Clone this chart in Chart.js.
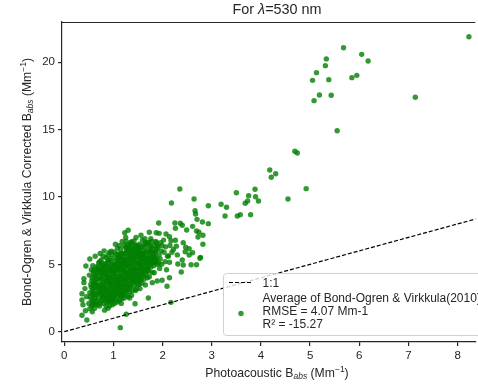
<!DOCTYPE html>
<html>
<head>
<meta charset="utf-8">
<script src="https://cdn.jsdelivr.net/npm/chart.js@4.4.0/dist/chart.umd.min.js"></script>
<style>
html,body{margin:0;padding:0;background:#fff;overflow:hidden;}
canvas{display:block;}
</style>
</head>
<body>
<canvas id="c" width="478" height="390"></canvas>
<script>
// ---- data (Photoacoustic Babs, Bond-Ogren & Virkkula corrected Babs) ----
const outlierPoints = [
[8.23,21.9],[5.68,21.08],[6.05,20.59],[6.18,20.10],[5.33,20.25],[5.31,19.75],[5.13,19.23],
[5.05,18.66],[5.38,18.71],[5.85,18.86],[5.95,19.03],[5.19,17.57],[5.43,17.55],[5.08,17.15],
[7.14,17.40],[5.55,14.92],[4.69,13.39],[4.74,13.27],[4.18,12.0],[4.30,11.73],[4.21,11.46],
[4.92,10.62],[4.55,9.85],[3.50,10.32],[3.88,10.57],[3.75,10.10],[3.89,10.02],[3.73,9.70],
[3.68,9.53],[3.95,9.70],[3.19,9.46],[3.30,9.24],[3.27,8.59],[3.52,8.59],[3.58,8.69],[3.79,8.69]
];
const clusterPoints = [
[0.36,1.22],[0.46,0.87],[0.36,2.35],[0.36,2.82],[0.40,3.64],[0.40,3.93],[0.44,4.88],[0.42,3.2],[0.45,2.6],[0.38,2.0],[0.43,1.55],
[0.52,1.71],[0.57,1.48],[0.50,2.1],[0.55,2.4],[0.52,2.9],[0.58,3.1],[0.54,3.5],[0.56,3.8],[0.51,4.2],[0.59,4.5],[0.53,2.6],[0.57,2.0],[0.60,2.7],[0.55,3.3],[0.60,3.6],[0.58,4.9],[0.52,5.4],
[0.62,1.74],[0.65,2.2],[0.63,2.5],[0.68,2.8],[0.61,3.0],[0.66,3.3],[0.64,3.6],[0.69,3.9],[0.62,4.1],[0.67,4.4],[0.65,4.8],[0.70,5.1],[0.63,5.6],[0.68,2.0],[0.70,3.1],[0.66,3.9],[0.61,2.3],[0.69,4.6],
[0.72,1.9],[0.75,2.3],[0.78,2.6],[0.71,2.9],[0.76,3.2],[0.73,3.5],[0.79,3.7],[0.74,4.0],[0.77,4.3],[0.72,4.6],[0.78,4.9],[0.75,5.3],[0.73,5.8],[0.80,2.1],[0.77,2.85],[0.71,3.45],[0.79,4.15],[0.74,3.05],[0.76,4.7],[0.79,5.6],
[0.82,1.6],[0.85,1.9],[0.89,1.74],[0.83,2.3],[0.87,2.6],[0.81,2.9],[0.86,3.1],[0.84,3.4],[0.88,3.7],[0.82,3.95],[0.86,4.2],[0.89,4.5],[0.83,4.8],[0.87,5.1],[0.85,5.5],[0.81,6.0],[0.88,2.2],[0.84,2.75],[0.89,3.25],[0.81,3.55],[0.87,3.9],[0.85,4.6],[0.89,5.3],
[0.92,1.9],[0.95,2.2],[0.98,2.0],[0.91,2.5],[0.96,2.8],[0.93,3.1],[0.99,3.3],[0.94,3.6],[0.97,3.9],[0.91,4.2],[0.96,4.5],[0.93,4.8],[0.99,5.0],[0.95,5.4],[0.92,5.9],[0.96,5.97],[0.98,2.6],[0.92,3.45],[0.97,4.1],[0.94,4.65],[0.99,3.75],[0.91,2.95],[0.97,5.7],
[1.02,2.1],[1.05,2.4],[1.08,2.2],[1.01,2.7],[1.06,3.0],[1.03,3.3],[1.09,3.5],[1.04,3.8],[1.07,4.1],[1.01,4.4],[1.06,4.7],[1.03,5.0],[1.09,5.2],[1.05,5.5],[1.02,5.9],[1.08,6.2],[1.04,6.5],[1.10,2.9],[1.07,3.65],[1.02,4.25],[1.09,4.55],[1.05,4.9],[1.00,3.1],
[1.12,2.3],[1.16,2.1],[1.14,2.6],[1.18,2.9],[1.11,3.2],[1.16,3.5],[1.13,3.8],[1.19,4.0],[1.14,4.3],[1.17,4.6],[1.11,4.9],[1.16,5.2],[1.13,5.5],[1.19,5.8],[1.15,6.1],[1.12,6.4],[1.18,6.7],[1.14,0.30],[1.20,3.4],[1.17,4.85],[1.12,3.65],[1.19,5.3],[1.15,2.75],[1.11,5.75],
[1.26,1.29],[1.22,2.5],[1.26,2.8],[1.29,2.6],[1.21,3.1],[1.25,3.4],[1.28,3.7],[1.23,4.0],[1.27,4.3],[1.21,4.6],[1.26,4.9],[1.23,5.2],[1.29,5.5],[1.24,5.8],[1.28,6.1],[1.22,6.4],[1.26,6.7],[1.23,7.35],[1.30,7.53],[1.29,3.15],[1.24,3.85],[1.28,4.65],[1.22,5.35],[1.27,6.0],[1.25,7.0],
[1.33,2.97],[1.37,2.7],[1.32,3.3],[1.36,3.6],[1.39,3.07],[1.31,3.9],[1.35,4.2],[1.38,4.5],[1.32,4.8],[1.36,5.1],[1.39,5.4],[1.33,5.7],[1.37,6.0],[1.31,6.3],[1.35,6.6],[1.37,6.68],[1.39,6.2],[1.34,4.05],[1.38,4.75],[1.32,5.3],[1.36,5.85],[1.40,3.8],[1.33,2.5],
[1.44,2.08],[1.47,3.17],[1.42,3.4],[1.45,3.7],[1.49,3.5],[1.41,4.0],[1.46,4.3],[1.43,4.6],[1.48,4.9],[1.41,5.2],[1.45,5.5],[1.49,5.8],[1.43,6.1],[1.47,6.4],[1.42,6.73],[1.46,7.0],[1.44,4.45],[1.48,5.25],[1.42,5.75],[1.47,6.05],[1.45,3.05],[1.50,4.1],
[1.52,3.5],[1.55,3.8],[1.58,3.6],[1.51,4.1],[1.56,4.4],[1.53,4.7],[1.59,5.0],[1.54,5.3],[1.57,5.6],[1.51,5.9],[1.56,6.2],[1.53,6.5],[1.56,7.16],[1.59,6.8],[1.55,4.95],[1.58,5.45],[1.52,6.05],[1.60,4.3],[1.54,3.2],
[1.65,3.47],[1.62,3.9],[1.66,4.2],[1.69,4.0],[1.61,4.5],[1.65,4.8],[1.68,5.1],[1.63,5.4],[1.67,5.7],[1.62,6.0],[1.66,6.3],[1.69,6.6],[1.64,6.9],[1.67,5.25],[1.61,5.6],[1.69,4.55],[1.63,6.45],
[1.71,2.50],[1.73,4.08],[1.79,3.64],[1.72,4.5],[1.76,4.8],[1.79,4.4],[1.71,5.1],[1.75,5.4],[1.78,5.7],[1.73,6.0],[1.77,6.3],[1.72,6.6],[1.73,7.38],[1.76,6.9],[1.79,5.2],[1.74,5.75],
[1.83,4.38],[1.89,3.76],[1.82,4.9],[1.86,5.2],[1.81,5.5],[1.85,5.8],[1.88,6.1],[1.83,6.4],[1.87,7.35],[1.86,6.7],[1.89,5.0],[1.84,5.55],[1.88,6.6],
[1.99,3.82],[1.92,5.1],[1.95,5.4],[1.98,5.0],[1.93,5.69],[1.97,6.0],[1.91,6.3],[1.96,6.6],[1.93,7.30],[1.92,8.07],[1.99,6.4],[1.94,4.7],
[2.09,3.37],[2.14,4.01],[2.17,2.18],[2.14,5.15],[2.12,5.62],[2.07,7.25],[2.14,7.05],[2.17,6.76],[2.03,5.9],[2.06,6.3],[2.10,5.6],[2.02,6.8],[2.18,9.55],[2.08,4.6],[2.15,6.4],[2.05,5.2],[2.19,5.9],
[2.26,6.79],[2.42,6.61],[2.47,6.27],[2.31,5.03],[2.40,5.32],[2.42,4.95],[2.38,4.43],[2.46,5.94],[2.25,8.07],[2.36,8.05],[2.40,7.90],[2.26,7.68],[2.49,7.55],[2.35,10.59],[2.22,6.1],[2.30,5.7],[2.28,6.35],
[2.54,6.16],[2.61,5.86],[2.77,5.52],[2.58,4.97],[2.69,4.97],[2.76,5.45],[2.54,5.69],[2.61,7.82],[2.69,7.48],[2.74,7.38],[2.72,7.03],[2.82,7.16],[2.82,6.49],[2.64,9.85],[2.93,9.35],[2.66,8.98],[2.67,8.74],[2.70,8.34],[2.81,8.14],[2.93,8.02]
];
const coreInfill = [
[0.56,1.9],[0.63,2.05],[0.58,2.25],[0.64,2.75],[0.57,2.8],[0.62,3.25],[0.59,3.4],[0.65,3.45],[0.61,3.75],[0.57,4.05],[0.64,4.25],[0.60,4.35],[0.55,4.6],[0.62,4.6],
[0.70,2.45],[0.73,2.15],[0.76,2.7],[0.72,3.3],[0.78,3.35],[0.75,3.85],[0.71,4.2],[0.78,4.5],[0.74,4.45],[0.70,4.85],[0.77,5.05],[0.72,5.2],
[0.80,2.5],[0.86,2.45],[0.83,3.15],[0.88,2.95],[0.80,3.3],[0.85,3.75],[0.83,4.35],[0.88,4.1],[0.81,4.55],[0.86,4.85],[0.84,5.05],[0.89,5.7],
[0.90,2.25],[0.94,2.4],[0.97,2.3],[0.93,2.75],[0.99,2.85],[0.95,3.25],[0.90,3.7],[0.96,3.5],[0.93,4.0],[0.98,4.35],[0.91,4.5],[0.95,4.95],[0.99,4.7],[0.93,5.25],
[1.00,2.45],[1.04,2.75],[1.08,2.65],[1.02,3.05],[1.06,3.35],[1.10,3.2],[1.01,3.6],[1.05,4.05],[1.09,3.9],[1.04,4.45],[1.08,4.8],[1.00,4.75],[1.03,5.25],[1.07,5.75],[1.10,5.5],
[1.13,2.85],[1.17,2.45],[1.20,2.7],[1.15,3.05],[1.18,3.25],[1.11,3.45],[1.15,3.95],[1.20,3.75],[1.12,4.15],[1.17,4.2],[1.20,4.45],[1.13,4.6],[1.15,4.75],[1.19,5.05],[1.14,5.05],[1.17,5.5],[1.11,5.25],[1.15,5.8],
[1.21,2.8],[1.24,3.0],[1.27,3.1],[1.23,3.55],[1.30,3.45],[1.21,3.85],[1.26,4.15],[1.29,4.0],[1.24,4.45],[1.30,4.4],[1.22,4.85],[1.28,5.0],[1.25,5.1],[1.27,5.35],[1.30,5.75],[1.21,5.65],[1.25,6.25],[1.29,6.45],
[1.31,3.55],[1.35,3.35],[1.38,3.85],[1.33,4.35],[1.40,4.25],[1.35,4.6],[1.30,5.05],[1.38,5.0],[1.34,5.45],[1.40,5.7],[1.31,5.95],[1.38,6.45],[1.34,6.2],
[1.41,3.7],[1.47,3.85],[1.43,4.15],[1.49,4.45],[1.41,4.75],[1.46,4.65],[1.44,5.05],[1.50,5.1],[1.42,5.45],[1.47,5.6],[1.45,6.0],[1.50,6.2],[1.44,6.4],
[1.51,3.85],[1.57,3.95],[1.54,4.2],[1.59,4.6],[1.52,4.55],[1.56,4.8],[1.51,5.05],[1.57,5.2],[1.53,5.55],[1.59,5.75],[1.55,5.85],[1.58,6.3],[1.51,6.35],
[1.61,4.2],[1.67,4.45],[1.63,4.65],[1.69,4.85],[1.61,5.1],[1.65,5.35],[1.69,5.45],[1.63,5.85],[1.68,6.0],[1.65,6.6],
[1.71,4.75],[1.75,5.05],[1.78,5.45],[1.72,5.45],[1.76,5.95],[1.79,6.1],[1.74,6.35],[1.78,6.7],
[1.81,5.1],[1.85,5.45],[1.88,5.35],[1.82,5.85],[1.86,6.0],[1.89,6.35]
];
const oneToOneX = [0, 9];
const xTicks = [0,1,2,3,4,5,6,7,8];
const yTicks = [0,5,10,15,20];
const titleText = ['For ', 'λ', '=530 nm'];
const legendLabels = ['1:1', 'Average of Bond-Ogren & Virkkula(2010)', 'RMSE = 4.07 Mm-1', 'R² = -15.27'];

// ---- drawing ----
const FONT = '"Liberation Sans", Arial, sans-serif';
const TXT = '#262626';
const scatterData = outlierPoints.concat(clusterPoints, coreInfill).map(p => ({x: p[0], y: p[1]}));
const lineData = oneToOneX.map(v => ({x: v, y: v}));

function drawRich(ctx, segs, size, cx, cy) {
  const parts = segs.map(s => {
    const fs = (s.sub || s.sup) ? size * 0.7 : size;
    const f = (s.it ? 'italic ' : '') + fs + 'px ' + FONT;
    ctx.font = f;
    return {t: s.t, f: f, w: ctx.measureText(s.t).width, dy: s.sub ? size * 0.22 : (s.sup ? -size * 0.38 : 0)};
  });
  const total = parts.reduce((a, p) => a + p.w, 0);
  let x = cx - total / 2;
  ctx.textAlign = 'left';
  ctx.textBaseline = 'middle';
  parts.forEach(p => { ctx.font = p.f; ctx.fillText(p.t, x, cy + p.dy); x += p.w; });
}

const decor = {
  id: 'decor',
  afterDatasetsDraw(chart) {
    const ctx = chart.ctx;
    const ca = chart.chartArea;
    ctx.save();
    ctx.fillStyle = TXT;
    // top spine
    ctx.strokeStyle = TXT; ctx.lineWidth = 1.2;
    ctx.beginPath(); ctx.moveTo(ca.left, ca.top + 0.5); ctx.lineTo(ca.right, ca.top + 0.5); ctx.stroke();
    // legend
    const lx = 223.5, ly = 273.5, lw = 300, lh = 62, r = 3;
    ctx.beginPath();
    ctx.moveTo(lx + r, ly); ctx.lineTo(lx + lw, ly); ctx.lineTo(lx + lw, ly + lh); ctx.lineTo(lx + r, ly + lh);
    ctx.arcTo(lx, ly + lh, lx, ly + lh - r, r); ctx.lineTo(lx, ly + r); ctx.arcTo(lx, ly, lx + r, ly, r);
    ctx.closePath();
    ctx.fillStyle = 'rgba(255,255,255,0.8)'; ctx.fill();
    ctx.strokeStyle = 'rgba(204,204,204,0.9)'; ctx.lineWidth = 1; ctx.stroke();
    ctx.setLineDash([4, 2]); ctx.strokeStyle = '#000'; ctx.lineWidth = 1.2;
    ctx.beginPath(); ctx.moveTo(229, 282.5); ctx.lineTo(252, 282.5); ctx.stroke();
    ctx.setLineDash([]);
    ctx.fillStyle = 'rgba(0,128,0,0.8)';
    ctx.beginPath(); ctx.arc(241, 313.5, 2.7, 0, Math.PI * 2); ctx.fill();
    ctx.fillStyle = TXT; ctx.font = '12px ' + FONT; ctx.textAlign = 'left'; ctx.textBaseline = 'middle';
    ctx.fillText(legendLabels[0], 262.5, 283.5);
    ctx.fillText(legendLabels[1], 262.5, 298.5);
    ctx.fillText(legendLabels[2], 262.5, 311.8);
    ctx.fillText(legendLabels[3], 262.5, 325);
    // title
    drawRich(ctx, [{t: titleText[0]}, {t: titleText[1], it: true}, {t: titleText[2]}], 14.4, 277, 10);
    // x label
    const axSegs = (pre) => [{t: pre + 'B'}, {t: 'abs', sub: true, it: true}, {t: ' (Mm'}, {t: '−1', sup: true}, {t: ')'}];
    drawRich(ctx, axSegs('Photoacoustic '), 12.2, 277, 374);
    // y label
    ctx.translate(28, 182); ctx.rotate(-Math.PI / 2);
    drawRich(ctx, axSegs('Bond-Ogren & Virkkula Corrected '), 12.2, 0, 0);
    ctx.restore();
  }
};

new Chart(document.getElementById('c'), {
  type: 'scatter',
  data: {
    datasets: [
      {type: 'line', label: '1:1', data: lineData, borderColor: '#000', borderWidth: 1.2, borderDash: [4, 2],
       pointRadius: 0, fill: false, order: 0},
      {label: 'Average', data: scatterData, backgroundColor: 'rgba(0,128,0,0.8)', borderWidth: 0,
       pointRadius: 2.7, pointHoverRadius: 2.7, order: 1}
    ]
  },
  options: {
    responsive: false, animation: false, devicePixelRatio: 1,
    layout: {padding: {left: 0, right: 0, top: 22, bottom: 0}},
    plugins: {legend: {display: false}, tooltip: {enabled: false}, title: {display: false}},
    scales: {
      x: {
        type: 'linear', min: -0.046, max: 8.36,
        afterBuildTicks: s => { s.ticks = xTicks.map(v => ({value: v})); },
        afterFit: s => { s.height = 48; },
        grid: {drawOnChartArea: false, drawTicks: true, tickLength: 4, color: TXT, lineWidth: 1.2},
        border: {display: true, color: TXT, width: 1.2},
        ticks: {color: TXT, font: {family: FONT, size: 11.5}, padding: 3, maxRotation: 0, autoSkip: false}
      },
      y: {
        type: 'linear', min: -0.765, max: 22.99,
        afterBuildTicks: s => { s.ticks = yTicks.map(v => ({value: v})); },
        afterFit: s => { s.width = 62; },
        grid: {drawOnChartArea: false, drawTicks: true, tickLength: 4, color: TXT, lineWidth: 1.2},
        border: {display: true, color: TXT, width: 1.2},
        ticks: {color: TXT, font: {family: FONT, size: 11.5}, padding: 3, autoSkip: false}
      }
    }
  },
  plugins: [decor]
});
</script>
</body>
</html>
